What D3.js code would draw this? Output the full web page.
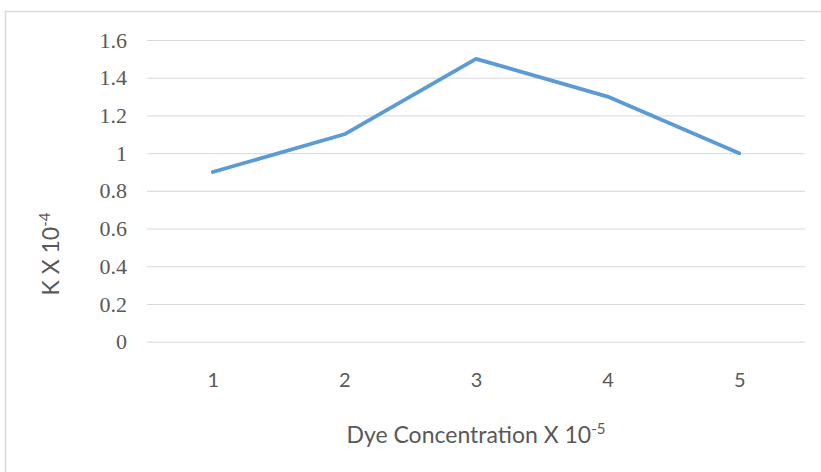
<!DOCTYPE html>
<html><head><meta charset="utf-8">
<script src="https://cdn.jsdelivr.net/npm/d3@7/dist/d3.min.js"></script>
<style>body{margin:0;background:#fff}svg{display:block}</style>
</head><body><svg id="c" width="821" height="472"></svg>
<script>
const categories = ["1","2","3","4","5"];
const values = [0.9, 1.1, 1.5, 1.3, 1.0];
const yTicks = [0, 0.2, 0.4, 0.6, 0.8, 1, 1.2, 1.4, 1.6];

const svg = d3.select("#c");
const m = {left:147, right:805, top:40, bottom:341.7};
svg.append("rect").attr("x",5.5).attr("y",11.5).attr("width",900).attr("height",600)
  .attr("fill","#fff").attr("stroke","#d9d9d9").attr("stroke-width",1.5);

const x = d3.scalePoint().domain(categories).range([m.left, m.right]).padding(0.5);
const y = d3.scaleLinear().domain([0,1.6]).range([m.bottom, m.top]);

const gy = svg.append("g").attr("transform",`translate(${m.left},0)`)
  .call(d3.axisLeft(y).tickValues(yTicks).tickSize(-(m.right-m.left)).tickPadding(20)
    .tickFormat(d=>d3.format("~g")(d)));
gy.select(".domain").remove();
gy.selectAll(".tick line").attr("stroke","#d9d9d9").attr("stroke-width",1);
gy.selectAll(".tick text").attr("fill","#595959").style("font-family","'Liberation Serif', serif").style("font-size","22px");

const gx = svg.append("g").attr("transform",`translate(0,${m.bottom})`)
  .call(d3.axisBottom(x).tickSize(0).tickPadding(31));
gx.select(".domain").remove();
gx.selectAll(".tick text").attr("fill","#595959").style("font-family","Lato, sans-serif").style("font-size","20px");

svg.append("path").datum(values)
  .attr("fill","none").attr("stroke","#5b9bd5").attr("stroke-width",3.8)
  .attr("stroke-linejoin","round").attr("stroke-linecap","round")
  .attr("d", d3.line().x((d,i)=>x(categories[i])).y(d=>y(d)));

const yt = svg.append("text").attr("transform","translate(59,254) rotate(-90)")
  .attr("text-anchor","middle").attr("fill","#595959")
  .style("font-family","Lato, sans-serif").style("font-size","23px");
yt.append("tspan").text("K X 10");
yt.append("tspan").attr("dy",-9).style("font-size","15px").text("-4");

const xt = svg.append("text").attr("x",476).attr("y",443)
  .attr("text-anchor","middle").attr("fill","#595959")
  .style("font-family","Lato, sans-serif").style("font-size","23px");
xt.append("tspan").text("Dye Concentration X 10");
xt.append("tspan").attr("dy",-9).style("font-size","15px").text("-5");
</script></body></html>
